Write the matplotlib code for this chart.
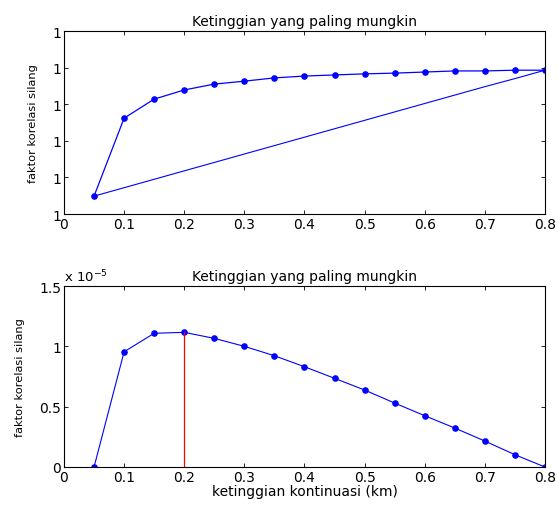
"""
Two-panel cross-correlation plot against continuation height (MATLAB look).
"""
import matplotlib
matplotlib.use('Agg')
import matplotlib.pyplot as plt
from matplotlib.ticker import FuncFormatter, MultipleLocator

plt.rcParams['font.family'] = ['DejaVu Sans']
plt.rcParams['font.size'] = 10

# data
height = [0.05, 0.10, 0.15, 0.20, 0.25, 0.30, 0.35, 0.40,
          0.45, 0.50, 0.55, 0.60, 0.65, 0.70, 0.75, 0.80]
corr_top = [0.49, 2.62, 3.14, 3.39, 3.55, 3.63, 3.72, 3.77,
            3.80, 3.83, 3.85, 3.88, 3.91, 3.91, 3.93, 3.93]
height_back = [0.80, 0.75, 0.70, 0.65, 0.60, 0.55, 0.50, 0.45,
               0.40, 0.35, 0.30, 0.25, 0.20, 0.15, 0.10, 0.05]
corr_back = [3.93, 3.70, 3.48, 3.25, 3.02, 2.79, 2.56, 2.33,
             2.10, 1.87, 1.64, 1.41, 1.18, 0.95, 0.72, 0.49]
corr_bottom = [0.0, 0.955e-5, 1.108e-5, 1.116e-5, 1.066e-5, 1.0e-5, 0.922e-5, 0.831e-5,
               0.735e-5, 0.638e-5, 0.530e-5, 0.425e-5, 0.323e-5, 0.215e-5, 0.102e-5, 0.0]
best_height = 0.2
best_corr = 1.116e-5

title = 'Ketinggian yang paling mungkin'
ylab = 'faktor korelasi silang'
xlab = 'ketinggian kontinuasi (km)'

fig = plt.figure(figsize=(5.56, 5.06), dpi=100)
ax1 = fig.add_axes([0.1151, 0.575, 0.865, 0.3617])
ax2 = fig.add_axes([0.1151, 0.0751, 0.865, 0.3577])


def matlab_axes(ax):
    ax.tick_params(direction='in', top=True, right=True, length=3, width=0.6, pad=2)
    for s in ax.spines.values():
        s.set_linewidth(0.8)
    ax.set_xlim(0, 0.8)
    ax.xaxis.set_major_locator(MultipleLocator(0.1))
    ax.xaxis.set_major_formatter(FuncFormatter(lambda v, p: '0' if abs(v) < 1e-9 else '%g' % round(v, 2)))
    ax.set_title(title, fontsize=10, pad=4)
    ax.set_ylabel(ylab, fontsize=8.2, labelpad=10)


# top panel
ax1.plot(height, corr_top, '-', color='blue', lw=0.9, marker='.', ms=7.5)
ax1.plot(height_back, corr_back, '-', color='blue', lw=0.8)
matlab_axes(ax1)
ax1.set_ylim(0, 5)
ax1.yaxis.set_major_locator(MultipleLocator(1))
ax1.yaxis.set_major_formatter(FuncFormatter(lambda v, p: '1'))

# bottom panel
ax2.plot(height, corr_bottom, '-', color='blue', lw=0.8, marker='.', ms=7.5)
ax2.plot([best_height, best_height], [0, best_corr], '-', color='red', lw=0.9)
matlab_axes(ax2)
ax2.set_ylim(0, 1.5e-5)
ax2.yaxis.set_major_locator(MultipleLocator(0.5e-5))
ax2.yaxis.set_major_formatter(FuncFormatter(lambda v, p: '%g' % round(v / 1e-5, 2)))
ax2.text(0.0, 1.012, r'x 10$^{-5}$', transform=ax2.transAxes, fontsize=9.5, va='bottom')
ax2.set_xlabel(xlab, fontsize=10, labelpad=0)

fig.savefig('out.png', dpi=100)
